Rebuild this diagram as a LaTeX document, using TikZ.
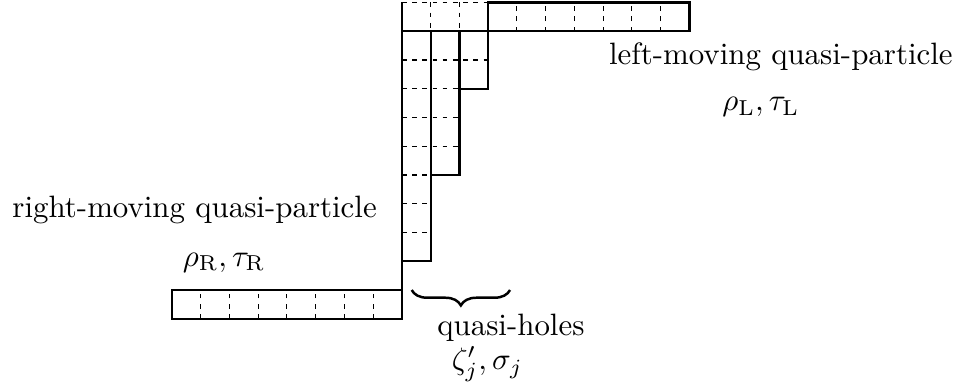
\documentclass[tikz,border=0pt]{standalone}
\usepackage{amsmath}
\usepackage{tikz}
\usetikzlibrary{decorations.pathreplacing, positioning}
\tikzset{
    cellbox/.style={line width=0.7pt},
    cellsep/.style={line width=0.35pt, dash pattern=on 1.5pt off 1.8pt},
    axisline/.style={line width=0.4pt},
    labeltext/.style={inner sep=0pt, anchor=base},
    holebrace/.style={decorate, decoration={brace, mirror, amplitude=5pt}, line width=0.8pt}
}

\begin{document}
\begin{tikzpicture}[x=0.327cm, y=0.327cm]
% Quasi-particle and quasi-hole rows drawn as Young-type cells.
  \useasboundingbox (-13.98,-3.443) rectangle (19.48,10.087);
  \draw[axisline] (0,10) -- (0,0);
  % empty cells above the hole columns
  \draw[cellsep] (0,10) -- (3,10);
  \foreach \i in {1,2} \draw[cellsep] (\i,10) -- (\i,9);
  % hole columns
  \draw[cellsep] (0,8) -- (3,8);
  \foreach \j in {5,6,7} \draw[cellsep] (0,\j) -- (2,\j);
  \foreach \j in {2,3,4} \draw[cellsep] (0,\j) -- (1,\j);
  \draw[cellbox] (0,9) -- (0,1) -- (1,1) -- (1,9);
  \draw[cellbox] (1,4) -- (2,4) -- (2,9);
  \draw[cellbox] (2,7) -- (3,7) -- (3,9);
  \draw[cellbox] (0,9) -- (3,9);
  % left-moving row
  \foreach \i in {4,...,9} \draw[cellsep] (\i,9) -- (\i,10);
  \draw[cellbox] (3,9) rectangle (10,10);
  % right-moving row
  \foreach \i in {-7,...,-1} \draw[cellsep] (\i,-1) -- (\i,0);
  \draw[cellbox] (-8,-1) rectangle (0,0);
  % labels
  \node[labeltext] (rightlbl) at (-7.21,2.53) {right-moving quasi-particle};
  \node[labeltext] (rightsym) at (-6.19,0.83) {$\rho_{\mathrm{R}}, \tau_{\mathrm{R}}$};
  \node[labeltext] (leftlbl) at (13.18,7.83) {left-moving quasi-particle};
  \node[labeltext] (leftsym) at (12.48,6.23) {$\rho_{\mathrm{L}}, \tau_{\mathrm{L}}$};
  \coordinate (holeL) at (0.34,0);
  \coordinate (holeR) at (3.76,0);
  \draw[holebrace] (holeL) -- (holeR);
  \node[labeltext] (holelbl) at (3.79,-1.57) {quasi-holes};
  \node[labeltext] (holesym) at (2.97,-2.78) {$\zeta'_j, \sigma_j$};
\end{tikzpicture}
\end{document}
